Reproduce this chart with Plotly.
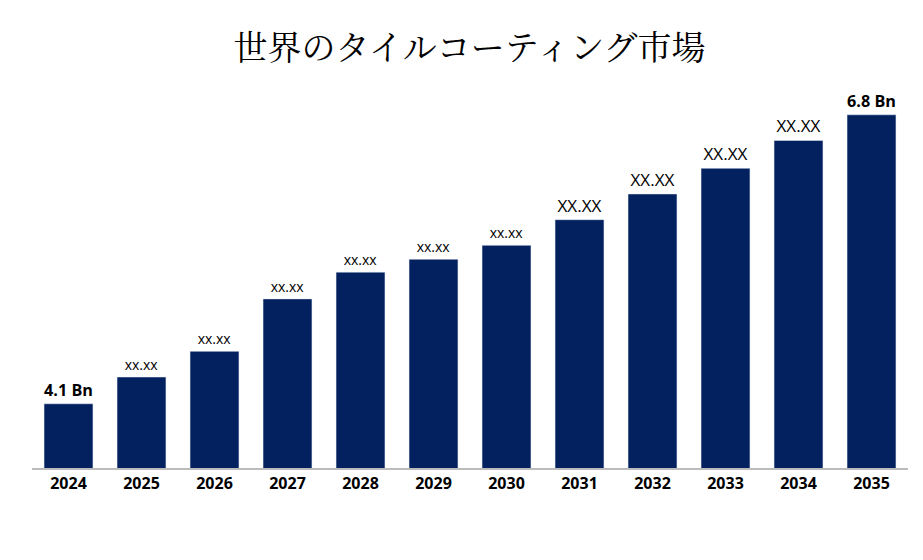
import plotly.graph_objects as go

years = ["2024","2025","2026","2027","2028","2029","2030","2031","2032","2033","2034","2035"]
values = [4.1, 4.35, 4.59, 5.08, 5.33, 5.45, 5.58, 5.82, 6.06, 6.30, 6.56, 6.8]
labels = ["<b>4.1 Bn</b>","xx.xx","xx.xx","xx.xx","xx.xx","xx.xx","xx.xx","XX.XX","XX.XX","XX.XX","XX.XX","<b>6.8 Bn</b>"]
sizes = [19,14,14,14,14,14,14,17,17,17,17,19]

fig = go.Figure(go.Bar(
    x=years, y=values, text=labels, textposition="outside",
    textfont=dict(size=sizes, color="black", family="Open Sans, Arial"),
    marker_color="#03215e", cliponaxis=False, width=0.67,
))
fig.update_layout(
    width=923, height=560, plot_bgcolor="white", paper_bgcolor="white",
    margin=dict(l=24, r=23, t=72, b=100),
    title=dict(text="世界のタイルコーティング市場", x=0.5, y=0.95, xanchor="center",
               font=dict(size=34, color="black", family="Noto Serif CJK JP, Noto Sans CJK JP")),
    xaxis=dict(showline=True, linecolor="#bbbbbb", linewidth=1.5, ticks="",
               tickfont=dict(size=16, color="black", family="Open Sans, Arial", weight="bold")),
    yaxis=dict(visible=False, range=[3.5, 7.125]),
    showlegend=False,
)
fig.write_html("out.html")
